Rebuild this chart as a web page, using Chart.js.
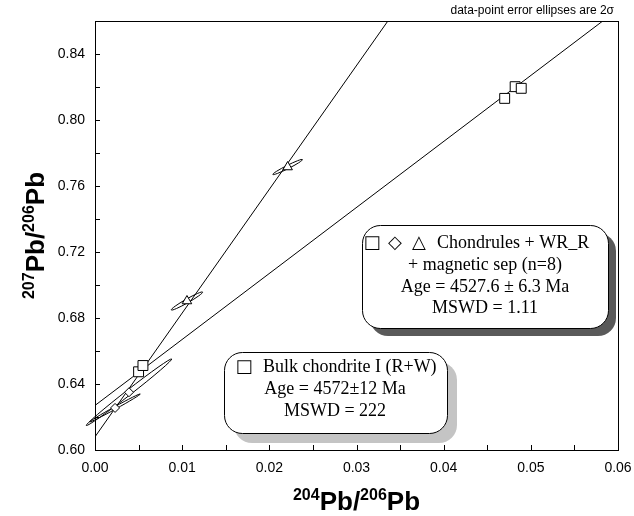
<!DOCTYPE html>
<html>
<head>
<meta charset="utf-8">
<script src="https://cdn.jsdelivr.net/npm/chart.js@4.4.0/dist/chart.umd.min.js"></script>
<style>
  html, body { margin: 0; padding: 0; background: #fff; }
</style>
</head>
<body>
<canvas id="chart" width="634" height="516"></canvas>
<script>
// Eixos (204Pb/206Pb x 207Pb/206Pb)
const xRange = [0, 0.06];
const yRange = [0.60, 0.86];
const xStep = 0.005;   // tick menor, rotulo a cada 0.01
const yStep = 0.02;    // tick menor, rotulo a cada 0.04

// Bulk chondrite I (R+W) - quadrados
const bulkX = [0.0050, 0.0055, 0.0470, 0.0482, 0.0489];
const bulkY = [0.6474, 0.6512, 0.8131, 0.8202, 0.8192];

// Chondrules + WR_R + magnetic sep - losangos e triangulos
const diamondX = [0.0023, 0.0039];
const diamondY = [0.6255, 0.6350];
const triangleX = [0.01055, 0.0221];
const triangleY = [0.6903, 0.7715];

// Isocronas: [chondrules, bulk]
const isoIntercept = [0.608, 0.627];
const isoSlope = [7.5, 4.0];

// Elipses de erro (2 sigma): centro, meia-largura x/y, correlacao
const ellX = [0.0023, 0.0039, 0.01055, 0.0221, 0.0050, 0.0055];
const ellY = [0.6255, 0.6350, 0.6903, 0.7715, 0.6474, 0.6512];
const ellErrX = [0.0029, 0.0049, 0.0018, 0.0017, 0.0003, 0.0003];
const ellErrY = [0.0085, 0.0202, 0.0055, 0.0046, 0.0012, 0.0012];
const ellRho = [0.995, 0.995, 0.97, 0.97, 0.9, 0.9];

const sans = '"Liberation Sans", Arial, sans-serif';
const serif = '"Liberation Serif", "Times New Roman", serif';

const pts = (xs, ys) => xs.map((x, i) => ({ x, y: ys[i] }));
const isoLine = i => xRange.map(x => ({ x, y: isoIntercept[i] + isoSlope[i] * x }));

// Elipses, moldura e ticks para dentro
const ellipses = {
  id: 'ellipses',
  beforeDatasetsDraw(chart) {
    const { ctx, scales: { x, y } } = chart;
    ctx.save();
    ctx.strokeStyle = '#000';
    ctx.lineWidth = 1;
    ellX.forEach((cx, i) => {
      const px = x.getPixelForValue(cx);
      const py = y.getPixelForValue(ellY[i]);
      const ex = x.getPixelForValue(cx + ellErrX[i]) - px;
      const ey = py - y.getPixelForValue(ellY[i] + ellErrY[i]);
      const a = ex * ex, d = ey * ey, b = -ellRho[i] * ex * ey;
      const m = (a + d) / 2, r = Math.sqrt(((a - d) / 2) ** 2 + b * b);
      const ang = 0.5 * Math.atan2(2 * b, a - d);
      ctx.beginPath();
      ctx.ellipse(px, py, Math.sqrt(m + r), Math.sqrt(Math.max(m - r, 0.3)), ang, 0, Math.PI * 2);
      ctx.stroke();
    });
    ctx.restore();
  }
};

const frame = {
  id: 'frame',
  beforeDatasetsDraw(chart) {
    const { ctx, chartArea: a, scales: { x, y } } = chart;
    ctx.save();
    ctx.strokeStyle = '#000';
    ctx.lineWidth = 1;
    ctx.strokeRect(a.left + 0.5, a.top + 0.5, a.right - a.left, a.bottom - a.top);
    ctx.beginPath();
    x.ticks.forEach(t => {
      const px = Math.round(x.getPixelForValue(t.value)) + 0.5;
      ctx.moveTo(px, a.bottom);
      ctx.lineTo(px, a.bottom - 5);
    });
    y.ticks.forEach(t => {
      const py = Math.round(y.getPixelForValue(t.value)) + 0.5;
      ctx.moveTo(a.left, py);
      ctx.lineTo(a.left + 5, py);
    });
    ctx.stroke();
    ctx.restore();
  }
};

// Titulos com sobrescrito
function pbLabel(ctx, cx, cy, supA, supB) {
  const parts = [[supA, true], ['Pb/', false], [supB, true], ['Pb', false]];
  const big = 'bold 26px ' + sans, small = 'bold 16px ' + sans;
  const w = parts.map(p => { ctx.font = p[1] ? small : big; return ctx.measureText(p[0]).width; });
  let x0 = cx - w.reduce((s, v) => s + v, 0) / 2;
  ctx.textAlign = 'left';
  ctx.textBaseline = 'alphabetic';
  parts.forEach((p, i) => {
    ctx.font = p[1] ? small : big;
    ctx.fillText(p[0], x0, p[1] ? cy - 10 : cy);
    x0 += w[i];
  });
}

function box(ctx, x, y, w, h, shadow, off) {
  ctx.fillStyle = shadow;
  ctx.beginPath();
  ctx.roundRect(x + off, y + off, w, h, 18);
  ctx.fill();
  ctx.fillStyle = '#fff';
  ctx.strokeStyle = '#000';
  ctx.lineWidth = 1;
  ctx.beginPath();
  ctx.roundRect(x + 0.5, y + 0.5, w, h, 18);
  ctx.fill();
  ctx.stroke();
}

const notes = {
  id: 'notes',
  afterDraw(chart) {
    const { ctx, chartArea: a } = chart;
    ctx.save();
    ctx.fillStyle = '#000';

    // titulos dos eixos
    pbLabel(ctx, (a.left + a.right) / 2, 510, '204', '206');
    ctx.save();
    ctx.translate(44, (a.top + a.bottom) / 2);
    ctx.rotate(-Math.PI / 2);
    pbLabel(ctx, 0, 0, '207', '206');
    ctx.restore();

    // nota no topo
    ctx.font = '12px ' + sans;
    ctx.textAlign = 'right';
    ctx.textBaseline = 'middle';
    ctx.fillText('data-point error ellipses are 2\u03c3', 614, 11);

    // caixa chondrules
    box(ctx, 362, 225, 246, 103, '#5a5a5a', 8);
    ctx.fillStyle = '#000';
    ctx.font = '18px "DejaVu Sans", sans-serif';
    ctx.textAlign = 'center';
    ctx.fillText('\u25a1', 372, 243);
    ctx.fillText('\u25c7', 395, 243);
    ctx.fillText('\u25b3', 419, 243);
    ctx.font = '18px ' + serif;
    ctx.textAlign = 'left';
    ctx.fillText('Chondrules + WR_R', 437, 243);
    ctx.textAlign = 'center';
    ctx.fillText('+ magnetic sep (n=8)', 485, 265);
    ctx.fillText('Age = 4527.6 \u00b1 6.3 Ma', 485, 287);
    ctx.fillText('MSWD = 1.11', 485, 308);

    // caixa bulk
    box(ctx, 224, 352, 223, 81, '#c4c4c4', 10);
    ctx.fillStyle = '#000';
    ctx.font = '18px "DejaVu Sans", sans-serif';
    ctx.fillText('\u25a1', 244, 367);
    ctx.font = '18px ' + serif;
    ctx.textAlign = 'left';
    ctx.fillText('Bulk chondrite I (R+W)', 263, 367);
    ctx.textAlign = 'center';
    ctx.fillText('Age = 4572\u00b112 Ma', 335, 389);
    ctx.fillText('MSWD = 222', 335, 411);
    ctx.restore();
  }
};

const marker = { borderColor: '#000', backgroundColor: '#fff', borderWidth: 1, order: 0 };
const iso = { type: 'line', borderColor: '#000', borderWidth: 1, pointRadius: 0, fill: false, order: 1 };

new Chart(document.getElementById('chart').getContext('2d'), {
  type: 'scatter',
  data: {
    datasets: [
      { ...marker, data: pts(bulkX, bulkY), pointStyle: 'rect', pointRadius: 7 },
      { ...marker, data: pts(diamondX, diamondY), pointStyle: 'rectRot', pointRadius: 4.5 },
      { ...marker, data: pts(triangleX, triangleY), pointStyle: 'triangle', pointRadius: 5.5 },
      { ...iso, data: isoLine(0) },
      { ...iso, data: isoLine(1) }
    ]
  },
  options: {
    responsive: false,
    animation: false,
    devicePixelRatio: 1,
    layout: { padding: { top: 21, right: 16, left: 0, bottom: 0 } },
    plugins: { legend: { display: false }, tooltip: { enabled: false } },
    scales: {
      x: {
        type: 'linear',
        min: xRange[0],
        max: xRange[1],
        afterFit: s => { s.height = 66; s.paddingLeft = 0; s.paddingRight = 0; },
        grid: { display: false, drawTicks: false },
        border: { display: false },
        ticks: {
          stepSize: xStep,
          autoSkip: false,
          maxRotation: 0,
          padding: 10,
          color: '#000',
          font: { family: sans, size: 14 },
          callback: v => Math.round(v * 1000) % 10 === 0 ? v.toFixed(2) : ''
        }
      },
      y: {
        type: 'linear',
        min: yRange[0],
        max: yRange[1],
        afterFit: s => { s.width = 95; },
        grid: { display: false, drawTicks: false },
        border: { display: false },
        ticks: {
          stepSize: yStep,
          autoSkip: false,
          padding: 10,
          color: '#000',
          font: { family: sans, size: 14 },
          callback: v => Math.round(v * 100) % 4 === 0 ? v.toFixed(2) : ''
        }
      }
    }
  },
  plugins: [frame, ellipses, notes]
});
</script>
</body>
</html>
